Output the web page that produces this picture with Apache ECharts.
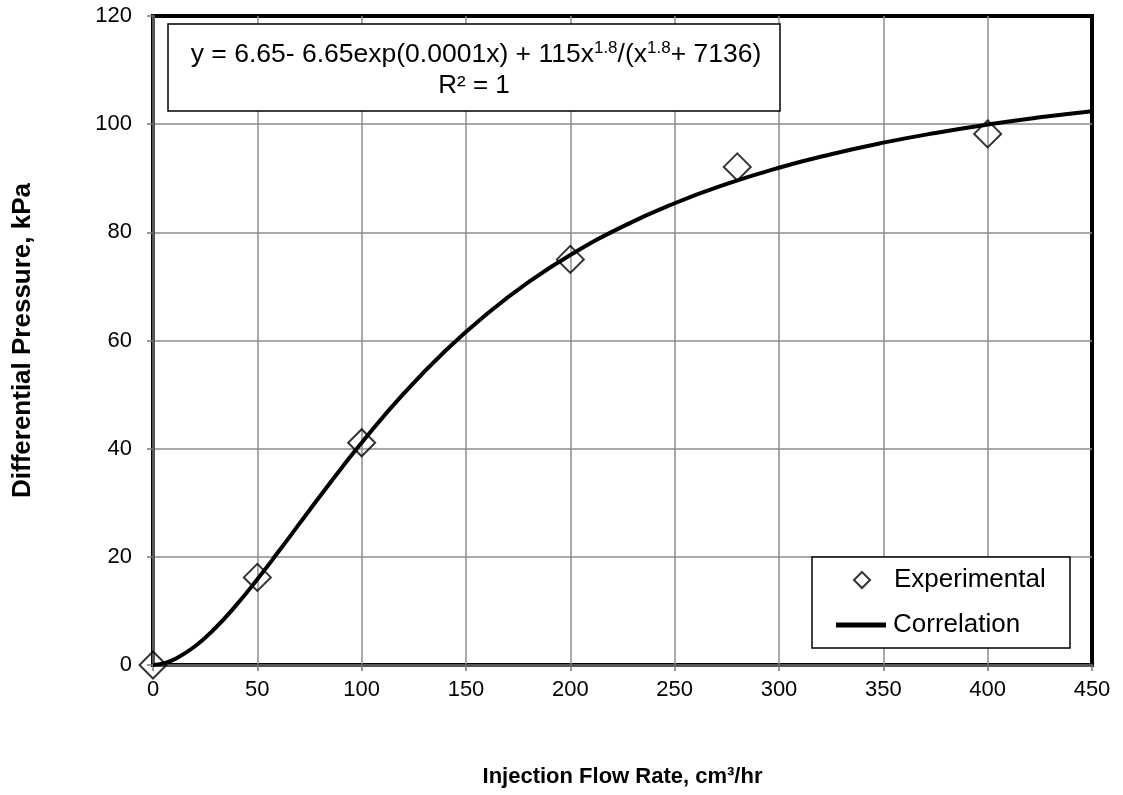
<!DOCTYPE html>
<html>
<head>
<meta charset="utf-8">
<style>
  html, body { margin: 0; padding: 0; background: #fff; }
  #chart { width: 1123px; height: 795px; }
</style>
<script src="https://cdn.jsdelivr.net/npm/echarts@6/dist/echarts.min.js"></script>
</head>
<body>
<div id="chart"></div>
<script>
// Measured differential pressure vs injection flow rate
const flowRates = [0, 50, 100, 200, 280, 400];
const pressures = [0, 16.2, 41.1, 75.0, 92.1, 98.2];

// Points along the fitted correlation curve
const curveFlow = [0, 5, 10, 20, 30, 40, 50, 60, 70, 80, 90, 100, 120, 140, 160, 180, 200,
                   225, 250, 275, 300, 325, 350, 375, 400, 425, 450];
const curvePressure = [0, 0.29, 1.0, 3.42, 6.88, 11.11, 15.85, 20.88, 26.04, 31.2, 36.24, 41.11,
                       50.12, 58.05, 64.9, 70.79, 75.8, 81.05, 85.38, 88.95, 91.95, 94.45,
                       96.58, 98.38, 99.93, 101.26, 102.4];

const xTicks = { min: 0, max: 450, interval: 50 };
const yTicks = { min: 0, max: 120, interval: 20 };

const FONT = '"Liberation Sans", Arial, sans-serif';

const chart = echarts.init(document.getElementById('chart'), null, { renderer: 'canvas' });

chart.setOption({
  animation: false,
  backgroundColor: '#fff',
  textStyle: { fontFamily: FONT, color: '#000' },
  grid: {
    left: 153, right: 31, top: 16, bottom: 130,
    show: true, borderColor: '#000', borderWidth: 4, backgroundColor: 'transparent'
  },
  xAxis: {
    type: 'value',
    min: xTicks.min, max: xTicks.max, interval: xTicks.interval,
    name: 'Injection Flow Rate, cm³/hr',
    nameLocation: 'middle', nameGap: 101,
    nameTextStyle: { fontFamily: FONT, fontSize: 22, fontWeight: 'bold', color: '#000' },
    axisLine: { show: true, onZero: false, lineStyle: { color: '#555', width: 3 } },
    axisTick: { show: true, length: 6, lineStyle: { color: '#777', width: 1.5 } },
    axisLabel: { fontFamily: FONT, fontSize: 22, color: '#000', margin: 14 },
    splitLine: { show: true, showMaxLine: false, lineStyle: { color: '#8c8c8c', width: 1.5 } }
  },
  yAxis: {
    type: 'value',
    min: yTicks.min, max: yTicks.max, interval: yTicks.interval,
    name: 'Differential Pressure, kPa',
    nameLocation: 'middle', nameGap: 117,
    nameTextStyle: { fontFamily: FONT, fontSize: 26, fontWeight: 'bold', color: '#000' },
    axisLine: { show: true, onZero: false, lineStyle: { color: '#555', width: 3 } },
    axisTick: { show: true, length: 6, lineStyle: { color: '#777', width: 1.5 } },
    axisLabel: { fontFamily: FONT, fontSize: 22, color: '#000', margin: 21 },
    splitLine: { show: true, showMaxLine: false, lineStyle: { color: '#8c8c8c', width: 1.5 } }
  },
  legend: [
    {
      left: 853, top: 565, padding: 0,
      itemWidth: 16, itemHeight: 16,
      z: 20,
      formatter: '{sp|}{t|{name}}',
      textStyle: {
        fontFamily: FONT, fontSize: 26, color: '#000', lineHeight: 30,
        rich: { sp: { width: 19 }, t: { fontFamily: FONT, fontSize: 26, color: '#000' } }
      },
      data: [{ name: 'Experimental', icon: 'diamond',
               itemStyle: { color: 'rgba(255,255,255,0)', borderColor: '#000', borderWidth: 2 } }]
    },
    {
      left: 836, top: 610, padding: 0,
      itemWidth: 50, itemHeight: 5,
      z: 20,
      formatter: '{sp|}{t|{name}}',
      textStyle: {
        fontFamily: FONT, fontSize: 26, color: '#000', lineHeight: 30,
        rich: { sp: { width: 2 }, t: { fontFamily: FONT, fontSize: 26, color: '#000' } }
      },
      data: [{ name: 'Correlation', icon: 'rect', itemStyle: { color: '#000' } }]
    }
  ],
  graphic: [
    {
      type: 'rect', z: 15,
      shape: { x: 812, y: 557, width: 258, height: 91 },
      style: { fill: '#fff', stroke: '#000', lineWidth: 1.5 }
    },
    {
      type: 'rect', z: 15,
      shape: { x: 168, y: 24, width: 612, height: 87 },
      style: { fill: '#fff', stroke: '#000', lineWidth: 1.5 }
    },
    {
      type: 'text', z: 16,
      x: 476, y: 55,
      style: {
        text: '{a|y = 6.65- 6.65exp(0.0001x) + 115x}{s|1.8}{a|/(x}{s|1.8}{a|+ 7136)}',
        align: 'center', verticalAlign: 'middle',
        rich: {
          a: { fontFamily: FONT, fontSize: 26.5, color: '#000', lineHeight: 30 },
          s: { fontFamily: FONT, fontSize: 17, color: '#000', lineHeight: 16, verticalAlign: 'top' }
        }
      }
    },
    {
      type: 'text', z: 16,
      x: 474, y: 86,
      style: {
        text: 'R² = 1',
        fontFamily: FONT, fontSize: 26, fill: '#000',
        align: 'center', verticalAlign: 'middle'
      }
    }
  ],
  series: [
    {
      name: 'Experimental',
      type: 'scatter',
      symbol: 'diamond',
      symbolSize: 27,
      z: 3,
      itemStyle: { color: 'rgba(255,255,255,0)', borderColor: '#000', borderWidth: 2 },
      data: flowRates.map((x, i) => [x, pressures[i]])
    },
    {
      name: 'Correlation',
      type: 'line',
      smooth: true,
      showSymbol: false,
      symbol: 'none',
      z: 4,
      lineStyle: { color: '#000', width: 4 },
      itemStyle: { color: '#000' },
      data: curveFlow.map((x, i) => [x, curvePressure[i]])
    }
  ]
});
</script>
</body>
</html>
